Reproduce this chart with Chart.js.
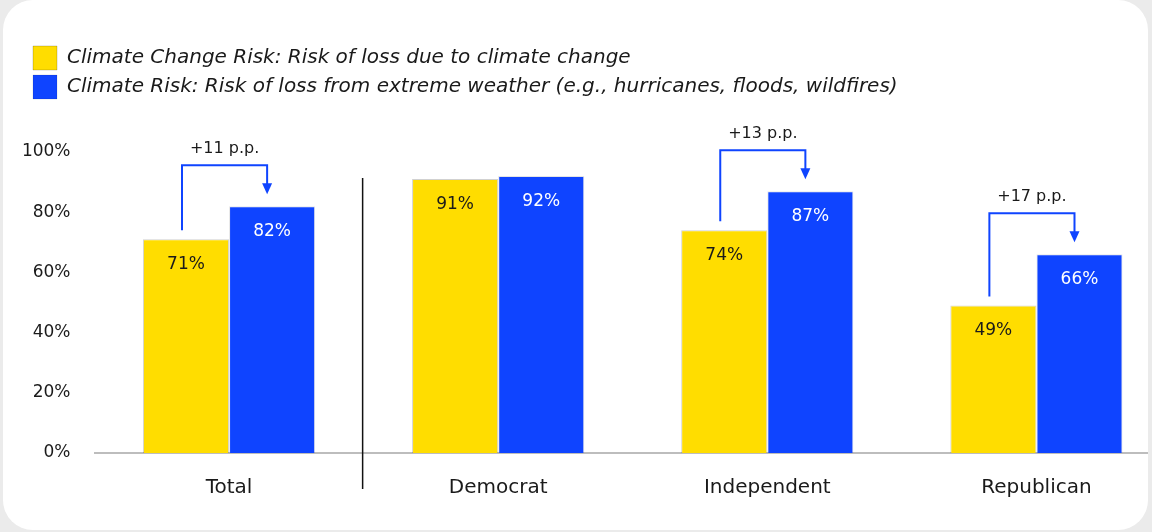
<!DOCTYPE html>
<html lang="en">
<head>
  <meta charset="UTF-8">
  <title>Climate Risk by Party</title>
  <script src="https://cdn.jsdelivr.net/npm/chart.js"></script>
  <style>
    body { margin: 0; background-color: #ebebeb; overflow: hidden; font-family: "DejaVu Sans", sans-serif; }
    .card { position: absolute; left: 3px; top: 0; width: 1145px; height: 530px; background: white; border-radius: 30px; overflow: hidden; }
    .chart-box { position: absolute; left: -3px; top: 0; width: 1172px; height: 532px; }
  </style>
</head>
<body>
<div class="card">
  <div class="chart-box"><canvas id="riskChart"></canvas></div>
</div>

<script>
  const groups = ['Total', 'Democrat', 'Independent', 'Republican'];
  const changeRisk = [71, 91, 74, 49];
  const weatherRisk = [82, 92, 87, 66];
  const seriesNames = [
    'Climate Change Risk: Risk of loss due to climate change',
    'Climate Risk: Risk of loss from extreme weather (e.g., hurricanes, floods, wildfires)'
  ];
  const yTicks = [0, 20, 40, 60, 80, 100];
  const bracketGroups = ['Total', 'Independent', 'Republican'];

  const YELLOW = '#ffdd00';
  const BLUE = '#0f44ff';
  const FONT = '"DejaVu Sans", sans-serif';

  // value labels inside the top of each bar
  const barLabels = {
    id: 'barLabels',
    afterDatasetsDraw(chart) {
      const ctx = chart.ctx;
      ctx.save();
      ctx.font = '17px ' + FONT;
      ctx.textAlign = 'center';
      ctx.textBaseline = 'middle';
      chart.data.datasets.forEach((ds, di) => {
        chart.getDatasetMeta(di).data.forEach((bar, i) => {
          ctx.fillStyle = di === 0 ? '#1a1a1a' : '#ffffff';
          ctx.fillText(ds.data[i] + '%', bar.x, bar.y + 25);
        });
      });
      ctx.restore();
    }
  };

  // bracket arrows showing the gap between the two series
  const gapBrackets = {
    id: 'gapBrackets',
    afterDatasetsDraw(chart) {
      const ctx = chart.ctx;
      const m0 = chart.getDatasetMeta(0).data;
      const m1 = chart.getDatasetMeta(1).data;
      ctx.save();
      bracketGroups.forEach(g => {
        const i = groups.indexOf(g);
        const a = m0[i], b = m1[i];
        const x0 = a.x - 4, x1 = b.x - 5;
        const top = Math.min(a.y, b.y) - 41;
        ctx.strokeStyle = BLUE;
        ctx.fillStyle = BLUE;
        ctx.lineWidth = 2;
        ctx.beginPath();
        ctx.moveTo(x0, a.y - 9);
        ctx.lineTo(x0, top);
        ctx.lineTo(x1, top);
        ctx.lineTo(x1, b.y - 22);
        ctx.stroke();
        ctx.beginPath();
        ctx.moveTo(x1 - 5, b.y - 23);
        ctx.lineTo(x1 + 5, b.y - 23);
        ctx.lineTo(x1, b.y - 12);
        ctx.closePath();
        ctx.fill();
        ctx.fillStyle = '#1a1a1a';
        ctx.font = '16px ' + FONT;
        ctx.textAlign = 'center';
        ctx.textBaseline = 'middle';
        ctx.fillText('+' + (weatherRisk[i] - changeRisk[i]) + ' p.p.', (x0 + x1) / 2, top - 16);
      });
      ctx.restore();
    }
  };

  // divider between the total and the party groups
  const divider = {
    id: 'divider',
    afterDraw(chart) {
      const xs = chart.scales.x;
      const x = (xs.getPixelForValue(0) + xs.getPixelForValue(1)) / 2 - 1;
      const ctx = chart.ctx;
      ctx.save();
      ctx.strokeStyle = '#111';
      ctx.lineWidth = 1.5;
      ctx.beginPath();
      ctx.moveTo(x, 178);
      ctx.lineTo(x, 489);
      ctx.stroke();
      ctx.restore();
    }
  };

  // legend: extra room below it and a small indent to the right
  const legendPlacement = {
    id: 'legendPlacement',
    beforeInit(chart) {
      const fit = chart.legend.fit;
      chart.legend.fit = function () {
        fit.call(this);
        this.height += 43;
      };
    },
    afterLayout(chart) {
      chart.legend.left += 18;
    }
  };

  new Chart(document.getElementById('riskChart'), {
    type: 'bar',
    data: {
      labels: groups,
      datasets: [
        { label: seriesNames[0], data: changeRisk, backgroundColor: YELLOW, borderColor: 'rgba(0,0,0,0.18)', borderWidth: 1 },
        { label: seriesNames[1], data: weatherRisk, backgroundColor: BLUE, borderColor: 'rgba(0,0,0,0.1)', borderWidth: 1 }
      ]
    },
    options: {
      responsive: true,
      maintainAspectRatio: false,
      animation: false,
      datasets: { bar: { categoryPercentage: 0.64, barPercentage: 1.0 } },
      layout: { padding: { left: 10, right: 1, top: 41, bottom: 9 } },
      plugins: {
        tooltip: { enabled: false },
        legend: {
          position: 'top',
          align: 'start',
          padding: 0,
          labels: {
            boxWidth: 24,
            boxHeight: 24,
            padding: 5,
            color: '#1a1a1a',
            font: { family: FONT, size: 20, style: 'italic' }
          }
        }
      },
      scales: {
        y: {
          min: 0,
          max: 100,
          afterFit(scale) { scale.width = 84.5; },
          afterBuildTicks(scale) { scale.ticks = yTicks.map(v => ({ value: v })); },
          grid: { display: false, drawTicks: false },
          border: { display: false },
          ticks: {
            padding: 24,
            color: '#1a1a1a',
            font: { family: FONT, size: 17 },
            callback: v => v + '%'
          }
        },
        x: {
          grid: { display: false, drawTicks: false },
          border: { color: '#bdbdbd', width: 2 },
          ticks: {
            padding: 23,
            color: '#1a1a1a',
            font: { family: FONT, size: 20 }
          }
        }
      }
    },
    plugins: [barLabels, gapBrackets, divider, legendPlacement]
  });
</script>
</body>
</html>
